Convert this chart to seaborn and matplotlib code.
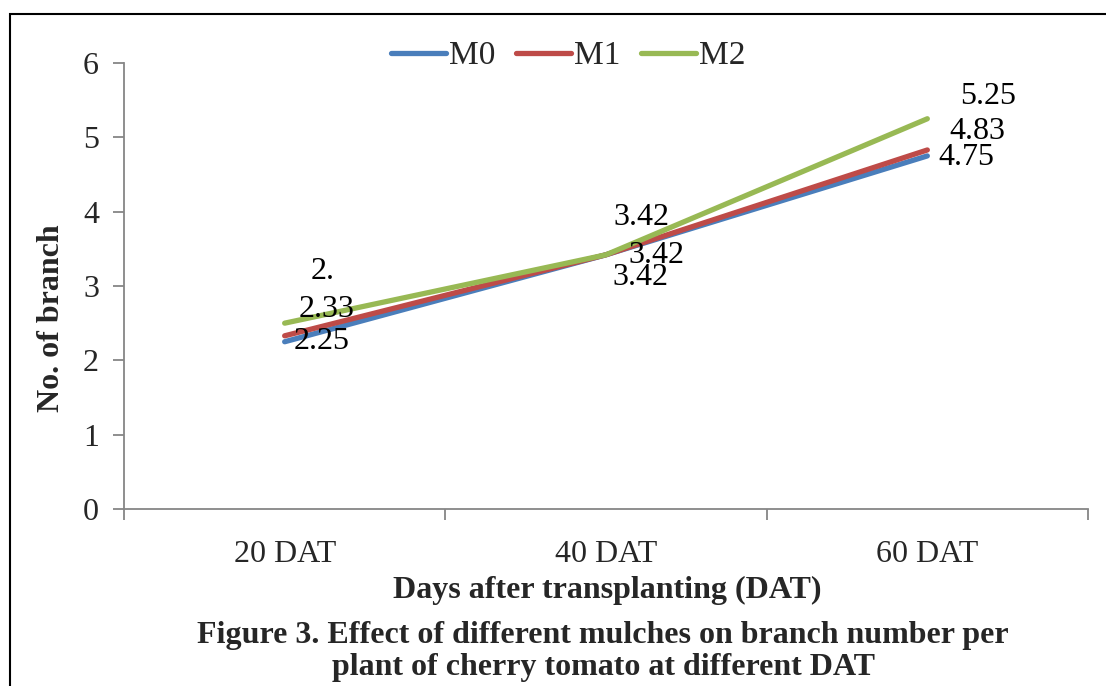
import matplotlib
matplotlib.use("Agg")
import matplotlib.pyplot as plt
import seaborn as sns
import pandas as pd
from matplotlib.patches import Rectangle

categories = ["20 DAT", "40 DAT", "60 DAT"]
m0 = [2.25, 3.42, 4.75]
m1 = [2.33, 3.42, 4.83]
m2 = [2.50, 3.42, 5.25]
series_names = ["M0", "M1", "M2"]
label_texts = {
    "M0": ["2.25", "3.42", "4.75"],
    "M1": ["2.33", "3.42", "4.83"],
    "M2": ["2.", "3.42", "5.25"],
}
colors = {"M0": "#4A7EBB", "M1": "#BE4B48", "M2": "#98B954"}

df = pd.DataFrame({
    "DAT": categories * 3,
    "value": m0 + m1 + m2,
    "series": [s for s in series_names for _ in categories],
})

sns.set_theme(style="white")
plt.rcParams["font.family"] = ["Liberation Serif", "DejaVu Serif"]

fig = plt.figure(figsize=(11.06, 6.86), dpi=100)
ax = fig.add_axes([124/1106, 1-509/686, (1088-124)/1106, (509-63)/686])

sns.lineplot(data=df, x="DAT", y="value", hue="series", palette=colors,
             linewidth=3.8, ax=ax, sort=False, legend=True)
for ln in ax.lines:
    ln.set_solid_capstyle("round")

# label positions (data coords)
label_pos = {
    "M0": [(0.115, 2.25), (1.107, 3.108), (2.121, 4.735)],
    "M1": [(0.131, 2.68), (1.157, 3.404), (2.155, 5.085)],
    "M2": [(0.118, 3.20), (1.110, 3.915), (2.19, 5.556)],
}
for s in series_names:
    for (x, y), t in zip(label_pos[s], label_texts[s]):
        ax.text(x, y, t, ha="center", va="center", fontsize=23, color="black")

ax.set_xlim(-0.5, 2.5)
ax.set_ylim(0, 6)
ax.set_yticks([0, 1, 2, 3, 4, 5, 6])
ax.set_xticks([-0.5, 0.5, 1.5, 2.5])
ax.set_xticklabels([])
ax.set_xticks([0, 1, 2], minor=True)
ax.set_xticklabels(categories, minor=True)
ax.tick_params(axis="x", which="major", length=8, width=1.3, color="#868686", direction="out", bottom=True)
ax.tick_params(axis="x", which="minor", length=0, labelsize=23, pad=22)
ax.tick_params(axis="y", length=8, width=1.3, color="#868686", direction="out", left=True, labelsize=23, pad=10)
for side in ["top", "right"]:
    ax.spines[side].set_visible(False)
for side in ["left", "bottom"]:
    ax.spines[side].set_color("#868686")
    ax.spines[side].set_linewidth(1.3)
ax.grid(False)

ax.set_xlabel("")
ax.set_ylabel("")
fig.text(52/1106, 1-318/686, "No. of branch", rotation=90, ha="center", va="center",
         fontsize=23, fontweight="bold")
fig.text(607/1106, 1-590/686, "Days after transplanting (DAT)", ha="center", va="center",
         fontsize=23, fontweight="bold")
fig.text(603/1106, 1-635/686, "Figure 3. Effect of different mulches on branch number per",
         ha="center", va="center", fontsize=23, fontweight="bold")
fig.text(603/1106, 1-668/686, "plant of cherry tomato at different DAT",
         ha="center", va="center", fontsize=23, fontweight="bold")

leg = ax.legend(loc="center", bbox_to_anchor=(568/1106, 1-56/686), bbox_transform=fig.transFigure,
                ncol=3, frameon=False, fontsize=24, handlelength=1.65, handletextpad=0.08,
                columnspacing=0.63, borderaxespad=0)
for h in leg.get_lines():
    h.set_linewidth(3.8)
    h.set_solid_capstyle("round")

fig.patches.append(Rectangle((10/1106, -0.2), 1.2, 1-14/686 + 0.2, transform=fig.transFigure,
                             fill=False, edgecolor="black", linewidth=1.5, figure=fig))

fig.savefig("out.png", dpi=100)
